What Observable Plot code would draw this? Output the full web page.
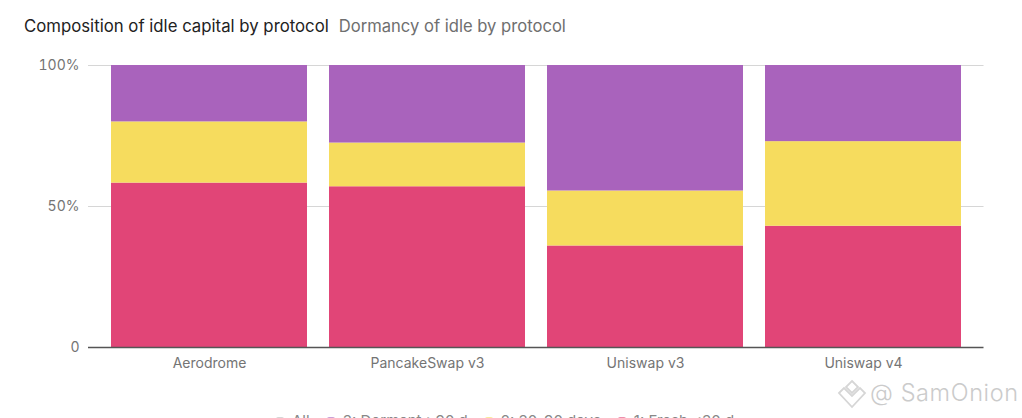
<!DOCTYPE html>
<html><head><meta charset="utf-8">
<script src="https://cdn.jsdelivr.net/npm/d3@7"></script>
<script src="https://cdn.jsdelivr.net/npm/@observablehq/plot@0.6"></script>
<style>
html,body{margin:0;padding:0;background:#fff;width:1022px;height:418px;overflow:hidden;font-family:Inter,sans-serif}
#t{position:absolute;left:24px;top:16px;font-size:16.75px;line-height:20px;white-space:nowrap;color:#222}
#t span{color:#6f6f6f;margin-left:10px;font-size:16.6px}
#c{position:absolute;left:0;top:45px}
#l{position:absolute;left:276px;top:411.5px;font-size:15px;line-height:18px;color:#888;white-space:nowrap}
#l i{display:inline-block;width:8px;height:9px;border-radius:2px;margin:0 8px 0 17px;opacity:.6}
#l i:first-child{margin-left:0}
#w{position:absolute;left:870px;top:379px;font-size:23.5px;line-height:28px;color:#cbcbcb;white-space:nowrap;font-weight:300;letter-spacing:.6px}
#m{position:absolute;left:837px;top:379px}
</style></head><body>
<div id="t">Composition of idle capital by protocol<span>Dormancy of idle by protocol</span></div>
<div id="c"></div>
<svg id="m" width="30" height="30" viewBox="0 0 30 30" fill="none" stroke="#d6d6d6" stroke-width="1.8"><path d="M15 2l6 6-6 6-6-6zM2 14l5-5 8 8 8-8 5 5-13 14z"/></svg>
<div id="w">@ SamOnion</div>
<div id="l"></div>
<script>
const protocols = ["Aerodrome","PancakeSwap v3","Uniswap v3","Uniswap v4"];
const tiers = ["1: Fresh <30 d","2: 30-90 days","3: Dormant >90 d"];
const fresh = [58.3,57,36,43];
const mid = [21.7,15.5,19.5,30];
const dormant = [20,27.5,44.5,27];
const tierColors = ["#e14577","#f6dc5e","#a963bc"];
const yTicks = [0,50,100];
const yLabels = ["0","50%","100%"];
const rows = protocols.flatMap((p,i)=>[fresh,mid,dormant].map((s,j)=>({protocol:p,tier:tiers[j],value:s[i]})));
const chart = Plot.plot({
  width:1022,height:320,
  marginLeft:88,marginRight:38.5,marginTop:20,marginBottom:18,
  style:{fontFamily:"Inter, sans-serif",fontSize:"14px",color:"#747474",background:"transparent",overflow:"visible"},
  x:{domain:protocols,padding:0.1,label:null,tickSize:0,tickPadding:11},
  y:{domain:[0,100],label:null,ticks:yTicks,tickSize:0,tickPadding:9,tickFormat:d=>yLabels[yTicks.indexOf(d)]},
  color:{domain:tiers,range:tierColors},
  marks:[
    Plot.ruleY([50,100],{stroke:"#d6d6d6",strokeWidth:1.2}),
    Plot.barY(rows,{x:"protocol",y:"value",fill:"tier",order:tiers}),
    Plot.ruleY([0],{stroke:"#555",strokeWidth:1.4})
  ]
});
document.getElementById("c").append(chart);
const lg = document.getElementById("l");
lg.innerHTML = '<i style="background:#bbb"></i>All' + [2,1,0].map(k=>`<i style="background:${tierColors[k]}"></i>${tiers[k]}`).join("");
</script>
</body></html>
